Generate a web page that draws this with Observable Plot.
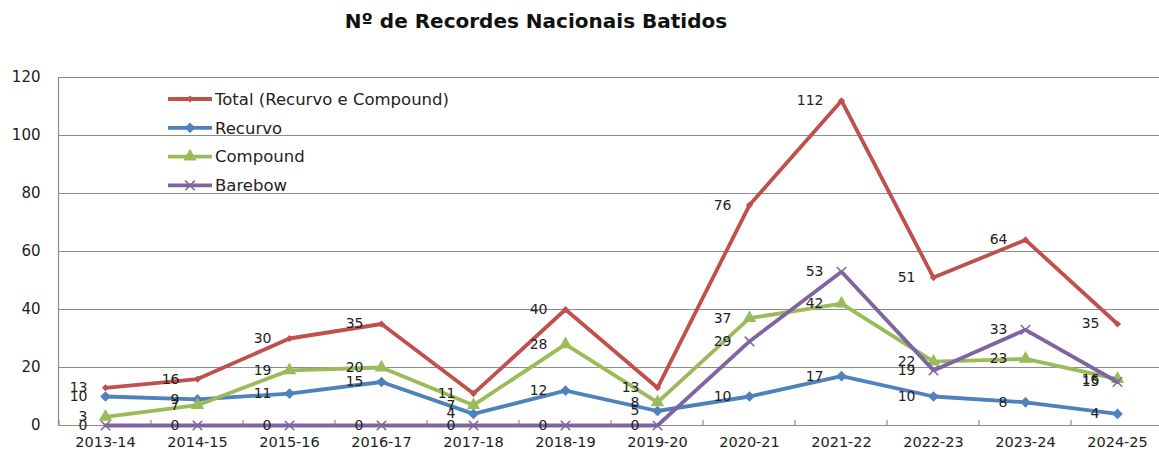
<!DOCTYPE html>
<html><head><meta charset="utf-8">
<script src="https://cdn.jsdelivr.net/npm/d3@7"></script>
<script src="https://cdn.jsdelivr.net/npm/@observablehq/plot@0.6"></script>
<style>body{margin:0;background:#fff} svg{display:block}</style>
</head><body><div id="chart"></div>
<script>
const title = "Nº de Recordes Nacionais Batidos";
const seasons = ["2013-14","2014-15","2015-16","2016-17","2017-18","2018-19","2019-20","2020-21","2021-22","2022-23","2023-24","2024-25"];
const total    = [13, 16, 30, 35, 11, 40, 13, 76, 112, 51, 64, 35];
const recurvo  = [10,  9, 11, 15,  4, 12,  5, 10,  17, 10,  8,  4];
const compound = [ 3,  7, 19, 20,  7, 28,  8, 37,  42, 22, 23, 16];
const barebow  = [ 0,  0,  0,  0,  0,  0,  0, 29,  53, 19, 33, 15];
const seriesNames = ["Total (Recurvo e Compound)", "Recurvo", "Compound", "Barebow"];
const colors = ["#C0504D", "#4F81BD", "#9BBB59", "#8064A2"];
const yTicks = [0, 20, 40, 60, 80, 100, 120];

const seriesValues = [total, recurvo, compound, barebow];
const symbols = ["diamond2", "diamond2", "triangle", "times"];
const radii = [3.2, 4.8, 5.0, 4.4];
const d3symbols = [d3.symbolDiamond2, d3.symbolDiamond2, d3.symbolTriangle, d3.symbolTimes];

const rows = [];
seriesValues.forEach((arr, i) => arr.forEach((v, j) => rows.push({season: seasons[j], value: v, series: seriesNames[i], idx: i})));

const font = "DejaVu Sans, sans-serif";
const grid = "#8c8c8c";

const marks = [
  Plot.ruleY(yTicks.slice(1), {stroke: grid, strokeWidth: 1}),
  Plot.ruleY([0], {stroke: grid, strokeWidth: 1.2}),
  Plot.frame({anchor: "left", stroke: grid, strokeWidth: 1.2}),
  Plot.axisY({ticks: yTicks, tickSize: 0, tickPadding: 18, fontSize: 15, fill: "#222", label: null}),
  Plot.axisX({tickSize: 0, tickPadding: 11, fontSize: 14.5, fill: "#222", label: null})
];
seriesNames.forEach((name, i) => {
  const d = rows.filter(r => r.idx === i);
  marks.push(Plot.line(d, {x: "season", y: "value", stroke: colors[i], strokeWidth: 3.8, strokeLinejoin: "miter"}));
  if (symbols[i] === "times") {
    marks.push(Plot.dot(d, {x: "season", y: "value", symbol: symbols[i], r: radii[i], stroke: colors[i], strokeWidth: 1.5, fill: "none"}));
  } else {
    marks.push(Plot.dot(d, {x: "season", y: "value", symbol: symbols[i], r: radii[i], fill: colors[i], stroke: "none"}));
  }
});
marks.push(Plot.text(rows, {x: "season", y: "value", text: d => String(d.value), textAnchor: "end", dx: -18, fontSize: 14, fill: "#222"}));

const plot = Plot.plot({
  width: 1159, height: 452,
  marginTop: 77, marginBottom: 27, marginLeft: 58, marginRight: 0,
  style: {fontFamily: font, background: "#fff", overflow: "visible"},
  x: {type: "point", domain: seasons, range: [103, 1118], padding: 0},
  y: {domain: [0, 120], range: [425, 77]},
  marks
});
document.getElementById("chart").appendChild(plot);

const svg = d3.select(plot);
const xs = plot.scale("x"), ys = plot.scale("y");
const step = xs.apply(seasons[1]) - xs.apply(seasons[0]);
const y0 = ys.apply(0);
const tickPos = [xs.apply(seasons[0]) - step / 2, ...seasons.map(s => xs.apply(s) + step / 2)];
svg.append("g").selectAll("line").data(tickPos).join("line")
  .attr("x1", d => d).attr("x2", d => d).attr("y1", y0).attr("y2", y0 - 5)
  .attr("stroke", grid).attr("stroke-width", 1.2);

// title
svg.append("text").text(title)
  .attr("x", 536).attr("y", 28).attr("text-anchor", "middle")
  .attr("font-family", font).attr("font-weight", "bold").attr("font-size", 20).attr("fill", "#111");

// legend
const lg = svg.append("g").attr("font-family", font).attr("font-size", 16.5).attr("text-anchor", "start");
seriesNames.forEach((name, i) => {
  const y = 99 + i * 28.8;
  const g = lg.append("g").attr("transform", `translate(0,${y})`);
  g.append("line").attr("x1", 168).attr("x2", 212).attr("y1", 0).attr("y2", 0)
    .attr("stroke", colors[i]).attr("stroke-width", 3.8);
  const p = g.append("path").attr("transform", "translate(190,0)")
    .attr("d", d3.symbol(d3symbols[i], Math.PI * radii[i] * radii[i])());
  if (symbols[i] === "times") p.attr("fill", "none").attr("stroke", colors[i]).attr("stroke-width", 1.5);
  else p.attr("fill", colors[i]);
  g.append("text").text(name).attr("x", 215).attr("y", 0).attr("dy", "0.35em").attr("fill", "#222").attr("text-anchor", "start");
});
</script></body></html>
